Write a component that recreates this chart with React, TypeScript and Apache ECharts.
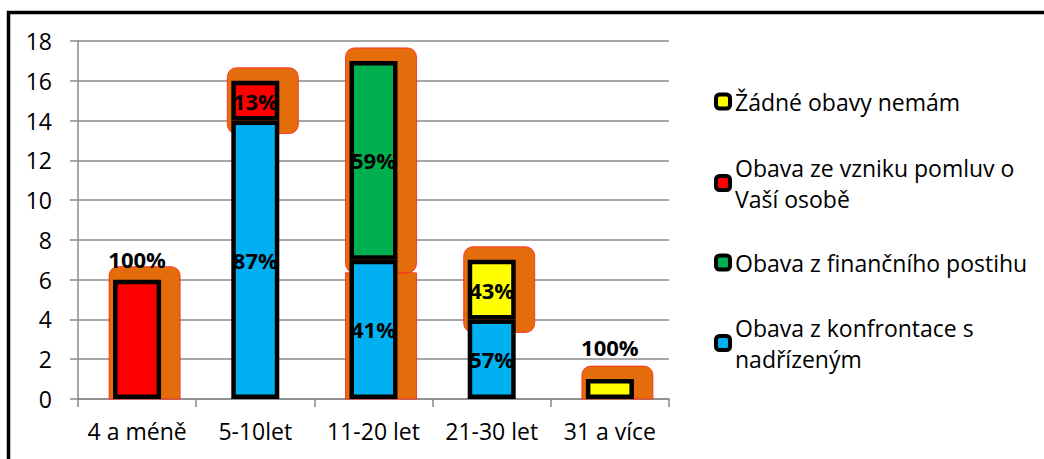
import React, { useEffect, useRef } from "react";
import * as echarts from "echarts";

// ---- data ----
const categories = ["4 a méně", "5-10let", "11-20 let", "21-30 let", "31 a více"];
const seriesNames = [
  "Obava z konfrontace s nadřízeným",
  "Obava z finančního postihu",
  "Obava ze vzniku pomluv o Vaší osobě",
  "Žádné obavy nemám",
];
const legendLabels = [
  "Obava z konfrontace s\nnadřízeným",
  "Obava z finančního postihu",
  "Obava ze vzniku pomluv o\nVaší osobě",
  "Žádné obavy nemám",
];
const blueValues = [0, 14, 7, 4, 0];
const greenValues = [0, 0, 10, 0, 0];
const redValues = [6, 2, 0, 0, 0];
const yellowValues = [0, 0, 0, 3, 1];
const blueLabels = ["", "87%", "41%", "57%", ""];
const greenLabels = ["", "", "59%", "", ""];
const redLabels = ["100%", "13%", "", "", ""];
const yellowLabels = ["", "", "", "43%", "100%"];
const yMin = 0;
const yMax = 18;
const yStep = 2;
// segments drawn with the orange backdrop: [seriesIndex, categoryIndex]
const backdropSegments = [
  [0, 2],
  [2, 0],
  [2, 1],
  [1, 2],
  [3, 3],
  [3, 4],
];

const allValues = [blueValues, greenValues, redValues, yellowValues];
const allLabels = [blueLabels, greenLabels, redLabels, yellowLabels];
const colors = ["#00B0F0", "#00B050", "#FF0000", "#FFFF00"];

export default function App() {
  const ref = useRef<HTMLDivElement>(null);

  useEffect(() => {
    if (!ref.current) return;
    const chart = echarts.init(ref.current, null, { renderer: "svg" });
    const font = "'Open Sans', sans-serif";

    // label above bar for single-segment (100%) columns
    const aboveDistance: Record<number, number> = { 0: 10, 4: 21 };

    const barSeries = allValues.map((vals, si) => ({
      type: "bar",
      name: seriesNames[si],
      stack: "total",
      barWidth: 48,
      z: 2,
      itemStyle: { color: colors[si], borderColor: "#000", borderWidth: 4.5 },
      label: {
        show: true,
        position: "inside",
        fontFamily: font,
        fontWeight: "bold",
        fontSize: 22,
        color: "#000",
        formatter: (p: any) => allLabels[si][p.dataIndex],
      },
      data: vals.map((v, ci) => {
        if (!v) return "-";
        const nonZero = allValues.filter((a) => a[ci] > 0).length;
        if (nonZero === 1) {
          return {
            value: v,
            label: { position: "top", distance: aboveDistance[ci] ?? 12 },
          };
        }
        return v;
      }),
    }));

    const backdropData = backdropSegments.map(([si, ci]) => {
      let low = 0;
      for (let k = 0; k < si; k++) low += allValues[k][ci];
      const high = low + allValues[si][ci];
      // a segment whose top meets another backdrop segment starts below it
      const covered = backdropSegments.some(([s2, c2]) => {
        if (c2 !== ci || s2 <= si) return false;
        let l2 = 0;
        for (let k = 0; k < s2; k++) l2 += allValues[k][c2];
        return l2 === high;
      })
        ? 1
        : 0;
      return [ci, low, high, covered];
    });

    const backdropSeries = {
      type: "custom",
      z: 1,
      silent: true,
      data: backdropData,
      encode: { x: 0, y: [1, 2] },
      renderItem: (params: any, api: any) => {
        const c = api.value(0);
        const lo = api.value(1);
        const hi = api.value(2);
        const covered = api.value(3) === 1;
        const top = api.coord([c, hi]);
        const bot = api.coord([c, lo]);
        const onAxis = lo === 0;
        const y0 = covered ? top[1] + 13 : top[1] - 13;
        const y1 = onAxis ? bot[1] : bot[1] + 13;
        const r = covered ? 0 : onAxis ? [9, 9, 0, 0] : 9;
        return {
          type: "rect",
          shape: { x: top[0] - 28, y: y0, width: 71, height: y1 - y0, r },
          style: { fill: "#E46C0A", stroke: "#FF2020", lineWidth: 0.8 },
        };
      },
    };

    const legendCenters = [101.5, 183, 262.5, 343];
    const legendOrder = [3, 2, 1, 0];
    const legends = legendOrder.map((si, k) => {
      const twoLine = legendLabels[si].includes("\n");
      return {
        data: [
          {
            name: seriesNames[si],
            textStyle: twoLine ? { padding: [31, 0, 0, 0] } : {},
          },
        ],
        left: 714,
        top: legendCenters[k] - (twoLine ? 46.5 : 15.5),
        orient: "vertical",
        padding: 0,
        itemWidth: 14,
        itemHeight: 14,
        icon: "roundRect",
        selectedMode: false,
        itemStyle: { borderColor: "#000", borderWidth: 4 },
        textStyle: { fontFamily: font, fontSize: 23, lineHeight: 31, color: "#000" },
        formatter: (n: string) => legendLabels[seriesNames.indexOf(n)],
      };
    });

    chart.setOption({
      animation: false,
      backgroundColor: "#fff",
      textStyle: { fontFamily: font },
      grid: { left: 78, right: 375, top: 41, bottom: 60, containLabel: false },
      legend: legends,
      xAxis: {
        type: "category",
        data: categories,
        axisLine: { lineStyle: { color: "#8a8a8a", width: 1.5 } },
        axisTick: { show: true, length: 8, lineStyle: { color: "#8a8a8a", width: 1.5 } },
        axisLabel: { fontFamily: font, fontSize: 23, color: "#000", margin: 20, interval: 0 },
        splitLine: { show: false },
      },
      yAxis: {
        type: "value",
        min: yMin,
        max: yMax,
        interval: yStep,
        axisLine: { show: true, lineStyle: { color: "#8a8a8a", width: 1.5 } },
        axisTick: { show: true, length: 8, lineStyle: { color: "#8a8a8a", width: 1.5 } },
        axisLabel: { fontFamily: font, fontSize: 23, color: "#000", margin: 26 },
        splitLine: { show: true, lineStyle: { color: "#8a8a8a", width: 1.5 } },
      },
      graphic: [
        {
          type: "rect",
          silent: true,
          z: 100,
          shape: { x: 8.5, y: 12.5, width: 1200, height: 600 },
          style: { fill: "none", stroke: "#000", lineWidth: 3.5 },
        },
      ],
      series: [backdropSeries, ...barSeries],
    });

    return () => chart.dispose();
  }, []);

  return (
    <div
      ref={ref}
      style={{ position: "fixed", left: 0, top: 0, width: 1044, height: 459 }}
    />
  );
}
